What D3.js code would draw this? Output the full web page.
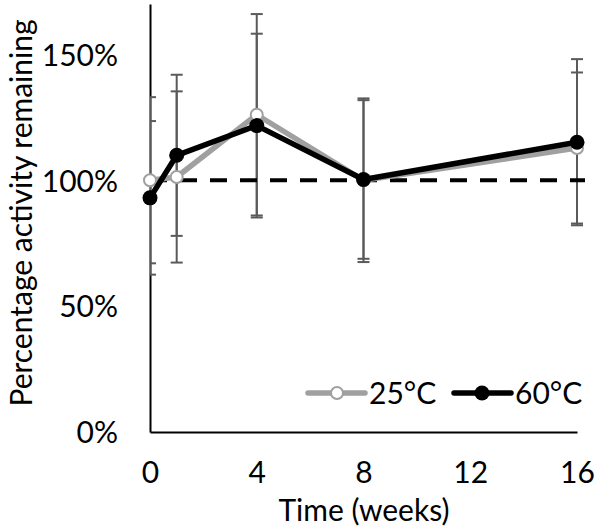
<!DOCTYPE html>
<html><head><meta charset="utf-8">
<script src="https://cdn.jsdelivr.net/npm/d3@7"></script>
<style>
body{margin:0;background:#fff}
text{font-family:Lato,sans-serif;fill:#000}
</style></head>
<body><svg id="c" width="600" height="532"></svg>
<script>
const weeks = [0, 1, 4, 8, 16];
const series25 = [100, 101.3, 126, 100, 112.8];
const err25 = [33, 34, 40, 32.5, 30];
const series60 = [93, 109.9, 121.7, 100.3, 115.1];
const err60 = [30.5, 32, 36.5, 31.5, 33];
const xTicks = [0, 4, 8, 12, 16];
const yTicks = [0, 50, 100, 150];
const seriesNames = ["25°C", "60°C"];
const reference = 100;

const FS = "30px";
const svg = d3.select("#c");
const x = d3.scaleLinear().domain([0, 16]).range([150, 577]);
const y = d3.scaleLinear().domain([0, 170]).range([432, 4]);

svg.append("defs").append("clipPath").attr("id","clip")
  .append("rect").attr("x",150).attr("y",0).attr("width",450).attr("height",440);

// axes
const yAx = svg.append("g").attr("transform","translate(150,0)")
  .call(d3.axisLeft(y).tickValues(yTicks).tickSize(0).tickFormat(d=>d+"%"));
yAx.select(".domain").attr("stroke","#000").attr("stroke-width",2);
yAx.selectAll("text").attr("x",-32).attr("dy","0.36em").style("font-size",FS).style("font-family","Lato").attr("fill","#000");

const xAx = svg.append("g").attr("transform","translate(0,432)")
  .call(d3.axisBottom(x).tickValues(xTicks).tickSize(0).tickFormat(d3.format("d")));
xAx.select(".domain").attr("stroke","#000").attr("stroke-width",2);
xAx.selectAll("text").attr("y",51).attr("dy","0").style("font-size",FS).style("font-family","Lato").attr("fill","#000");

// titles
svg.append("text").attr("transform","translate(32,213) rotate(-90)")
  .attr("text-anchor","middle").style("font-size",FS).text("Percentage activity remaining");
svg.append("text").attr("x",364).attr("y",521)
  .attr("text-anchor","middle").style("font-size",FS).text("Time (weeks)");

// error bars
const eb = svg.append("g").attr("clip-path","url(#clip)").attr("stroke","#5a5a5a").attr("stroke-width",2).attr("fill","none");
function errorBars(vals, errs){
  weeks.forEach((w,i)=>{
    const cx = x(w), top = y(vals[i]+errs[i]), bot = y(vals[i]-errs[i]);
    eb.append("line").attr("x1",cx).attr("x2",cx).attr("y1",top).attr("y2",bot);
    eb.append("line").attr("x1",cx-6).attr("x2",cx+6).attr("y1",top).attr("y2",top);
    eb.append("line").attr("x1",cx-6).attr("x2",cx+6).attr("y1",bot).attr("y2",bot);
  });
}
errorBars(series25, err25);
errorBars(series60, err60);

// reference dashed line
svg.append("line").attr("x1",x(0)).attr("x2",x(16.3)).attr("y1",y(reference)).attr("y2",y(reference))
  .attr("stroke","#000").attr("stroke-width",4).attr("stroke-dasharray","17,13");

const line = d3.line().x((d,i)=>x(weeks[i])).y(d=>y(d));
// 25C
svg.append("path").datum(series25).attr("d",line).attr("fill","none")
  .attr("stroke","#a0a0a0").attr("stroke-width",5.5).attr("stroke-linejoin","round");
svg.selectAll(".m25").data(series25).enter().append("circle")
  .attr("cx",(d,i)=>x(weeks[i])).attr("cy",d=>y(d)).attr("r",6)
  .attr("fill","#fff").attr("stroke","#a0a0a0").attr("stroke-width",2);
// 60C
svg.append("path").datum(series60).attr("d",line).attr("fill","none")
  .attr("stroke","#000").attr("stroke-width",5.5).attr("stroke-linejoin","round");
svg.selectAll(".m60").data(series60).enter().append("circle")
  .attr("cx",(d,i)=>x(weeks[i])).attr("cy",d=>y(d)).attr("r",7.5).attr("fill","#000");

// legend
const lg = svg.append("g");
lg.append("line").attr("x1",308).attr("x2",365).attr("y1",393).attr("y2",393).attr("stroke","#a0a0a0").attr("stroke-width",5.5).attr("stroke-linecap","round");
lg.append("circle").attr("cx",337).attr("cy",393).attr("r",6).attr("fill","#fff").attr("stroke","#a0a0a0").attr("stroke-width",2);
lg.append("text").attr("x",369).attr("y",404).style("font-size",FS).text(seriesNames[0]);
lg.append("line").attr("x1",454).attr("x2",511).attr("y1",393).attr("y2",393).attr("stroke","#000").attr("stroke-width",5.5).attr("stroke-linecap","round");
lg.append("circle").attr("cx",482).attr("cy",393).attr("r",7.5).attr("fill","#000");
lg.append("text").attr("x",515).attr("y",404).style("font-size",FS).text(seriesNames[1]);
</script></body></html>
